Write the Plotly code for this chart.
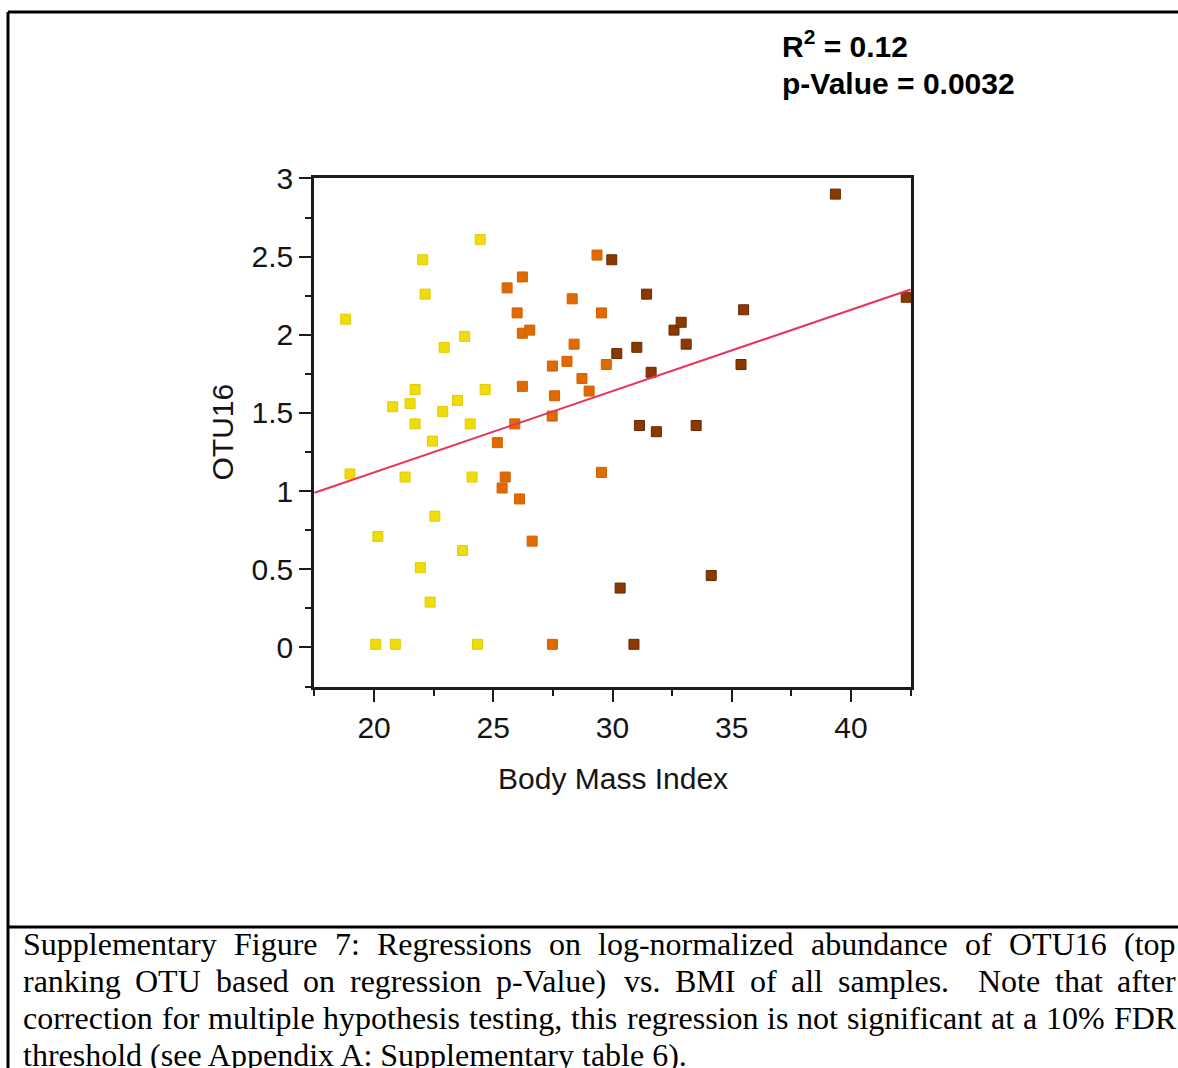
import plotly.graph_objects as go

FIG_W, FIG_H = 1178, 1068

# OTU16 log-normalized abundance vs. BMI, grouped by BMI band
bmi_low = [18.81, 18.99, 20.16, 20.07, 20.89, 20.78, 21.30, 21.51, 21.72, 21.72,
           22.04, 22.14, 21.94, 22.35, 22.45, 22.55, 22.88, 22.94, 23.50, 23.71,
           23.80, 24.03, 24.11, 24.34, 24.45, 24.66]
otu_low = [2.10, 1.11, 0.71, 0.02, 0.02, 1.54, 1.09, 1.56, 1.65, 1.43,
           2.48, 2.26, 0.51, 0.29, 1.32, 0.84, 1.51, 1.92, 1.58, 0.62,
           1.99, 1.43, 1.09, 0.02, 2.61, 1.65]

bmi_mid = [25.17, 25.37, 25.50, 25.58, 25.90, 26.00, 26.10, 26.22, 26.22, 26.53,
           26.22, 26.63, 27.47, 27.48, 27.57, 27.48, 28.09, 28.31, 28.39, 28.72,
           29.02, 29.35, 29.54, 29.54, 29.74]
otu_mid = [1.31, 1.02, 1.09, 2.30, 1.43, 2.14, 0.95, 2.37, 2.01, 2.03,
           1.67, 0.68, 1.48, 1.80, 1.61, 0.02, 1.83, 2.23, 1.94, 1.72,
           1.64, 2.51, 2.14, 1.12, 1.81]

bmi_high = [29.97, 30.18, 30.32, 30.90, 31.02, 31.13, 31.43, 31.62, 31.84, 32.58,
            32.88, 33.09, 33.51, 34.14, 35.39, 35.50, 39.35, 42.32]
otu_high = [2.48, 1.88, 0.38, 0.02, 1.92, 1.42, 2.26, 1.76, 1.38, 2.03,
            2.08, 1.94, 1.42, 0.46, 1.81, 2.16, 2.90, 2.24]

# Linear regression line
fit_x = [17.5, 42.5]
fit_intercept = 0.08
fit_slope = 0.052

x_ticks = [20, 25, 30, 35, 40]
y_ticks = [0, 0.5, 1, 1.5, 2, 2.5, 3]
y_tick_labels = ["0", "0.5", "1", "1.5", "2", "2.5", "3"]

stats_lines = ["R<sup>2</sup> = 0.12", "p-Value = 0.0032"]

caption_lines = [
    "Supplementary Figure 7: Regressions on log-normalized abundance of OTU16 (top",
    "ranking OTU based on regression p-Value) vs. BMI of all samples.  Note that after",
    "correction for multiple hypothesis testing, this regression is not significant at a 10% FDR",
    "threshold (see Appendix A: Supplementary table 6).",
]

# ---------------------------------------------------------------- layout helpers
PLOT_L, PLOT_R, PLOT_T, PLOT_B = 314, 911, 178, 687


def px(x):
    return x / FIG_W


def py(y):
    return 1 - y / FIG_H


AXIS_COLOR = "#1c1c1c"
SANS = "Liberation Sans, Arial, sans-serif"
SERIF = "Liberation Serif, Times New Roman, serif"
CHART_SIZE = 30

fig = go.Figure()

groups = [
    (bmi_low, otu_low, "#EEDC0C", "#E2CC00"),
    (bmi_mid, otu_mid, "#E06A00", "#D26000"),
    (bmi_high, otu_high, "#8A3A00", "#6A2800"),
]
for xs, ys, fill, edge in groups:
    fig.add_trace(go.Scatter(
        x=xs, y=ys, mode="markers",
        marker=dict(symbol="square", size=10, color=fill,
                    line=dict(color=edge, width=1)),
        hoverinfo="x+y", showlegend=False,
    ))

fit_y = [fit_intercept + fit_slope * v for v in fit_x]
fig.add_trace(go.Scatter(
    x=fit_x, y=fit_y, mode="lines",
    line=dict(color="#E8345C", width=2),
    hoverinfo="skip", showlegend=False,
))

tick_font = dict(family=SANS, size=CHART_SIZE, color="#151515")

fig.update_xaxes(
    domain=[px(PLOT_L), px(PLOT_R)],
    range=[17.48, 42.52],
    tickmode="array", tickvals=x_ticks, ticktext=[str(v) for v in x_ticks],
    ticks="outside", ticklen=12, tickwidth=2, tickcolor=AXIS_COLOR,
    minor=dict(tickmode="linear", tick0=0, dtick=2.5, ticks="outside",
               ticklen=6, tickwidth=2, tickcolor=AXIS_COLOR),
    showline=True, linecolor=AXIS_COLOR, linewidth=2.5, mirror=True,
    showgrid=False, zeroline=False, automargin=False,
    tickfont=tick_font, ticklabelstandoff=0,
)
fig.update_yaxes(
    domain=[py(PLOT_B), py(PLOT_T)],
    range=[-0.253, 3.003],
    tickmode="array", tickvals=y_ticks, ticktext=y_tick_labels,
    ticks="outside", ticklen=12, tickwidth=2, tickcolor=AXIS_COLOR,
    minor=dict(tickmode="linear", tick0=0, dtick=0.25, ticks="outside",
               ticklen=6, tickwidth=2, tickcolor=AXIS_COLOR),
    showline=True, linecolor=AXIS_COLOR, linewidth=2.5, mirror=True,
    showgrid=False, zeroline=False, automargin=False,
    tickfont=tick_font, ticklabelstandoff=0,
)

annotations = []

# axis titles
annotations.append(dict(
    text="Body Mass Index", x=px((PLOT_L + PLOT_R) / 2), y=py(778),
    xref="paper", yref="paper", xanchor="center", yanchor="middle",
    showarrow=False, font=dict(family=SANS, size=CHART_SIZE, color="#151515"),
))
annotations.append(dict(
    text="OTU16", x=px(222), y=py((PLOT_T + PLOT_B) / 2),
    xref="paper", yref="paper", xanchor="center", yanchor="middle",
    textangle=-90, showarrow=False,
    font=dict(family=SANS, size=CHART_SIZE, color="#151515"),
))

# regression statistics
for i, line in enumerate(stats_lines):
    annotations.append(dict(
        text="<b>" + line + "</b>", x=px(780), y=py(44 + 40 * i),
        xref="paper", yref="paper", xanchor="left", yanchor="middle",
        showarrow=False, font=dict(family=SANS, size=CHART_SIZE, color="#000000"),
    ))

# ---------------------------------------------------------------- caption (justified)
TIMES_W = {
    " ": 250, "(": 333, ")": 333, ",": 250, "-": 333, ".": 250, ":": 278, "%": 833,
    "A": 722, "B": 667, "C": 667, "D": 722, "E": 611, "F": 556, "G": 722, "H": 722,
    "I": 333, "J": 389, "K": 722, "L": 611, "M": 889, "N": 722, "O": 722, "P": 556,
    "Q": 722, "R": 667, "S": 556, "T": 611, "U": 722, "V": 722, "W": 944, "X": 722,
    "Y": 722, "Z": 611,
    "a": 444, "b": 500, "c": 444, "d": 500, "e": 444, "f": 333, "g": 500, "h": 500,
    "i": 278, "j": 278, "k": 500, "l": 278, "m": 778, "n": 500, "o": 500, "p": 500,
    "q": 500, "r": 333, "s": 389, "t": 278, "u": 500, "v": 500, "w": 722, "x": 500,
    "y": 500, "z": 444,
}
CAP_SIZE = 32
CAP_L, CAP_R = 22, 1175
CAP_Y0, CAP_DY = 944, 37.0


def text_width(s, size):
    return sum(TIMES_W.get(c, 500) for c in s) * size / 1000.0


for li, line in enumerate(caption_lines):
    yc = py(CAP_Y0 + CAP_DY * li)
    cap_font = dict(family=SERIF, size=CAP_SIZE, color="#000000")
    if li == len(caption_lines) - 1:
        annotations.append(dict(
            text=line, x=px(CAP_L), y=yc, xref="paper", yref="paper",
            xanchor="left", yanchor="middle", showarrow=False, font=cap_font,
            borderpad=0,
        ))
        continue
    tokens = line.split(" ")
    words_w = sum(text_width(t, CAP_SIZE) for t in tokens)
    n_spaces = len(tokens) - 1
    gap = (CAP_R - CAP_L - words_w) / n_spaces
    cursor = CAP_L
    for t in tokens:
        if t:
            annotations.append(dict(
                text=t, x=px(cursor), y=yc, xref="paper", yref="paper",
                xanchor="left", yanchor="middle", showarrow=False, font=cap_font,
                borderpad=0,
            ))
        cursor += text_width(t, CAP_SIZE) + gap

# page frame: top rule, left rule, caption separator
frame = dict(color="#000000", width=3)
shapes = [
    dict(type="line", xref="paper", yref="paper", x0=px(8), x1=1, y0=py(12), y1=py(12), line=frame),
    dict(type="line", xref="paper", yref="paper", x0=px(8), x1=px(8), y0=py(12), y1=0, line=frame),
    dict(type="line", xref="paper", yref="paper", x0=px(8), x1=1, y0=py(927), y1=py(927), line=frame),
]

fig.update_layout(
    width=FIG_W, height=FIG_H,
    margin=dict(l=0, r=0, t=0, b=0, pad=0, autoexpand=False),
    paper_bgcolor="white", plot_bgcolor="white",
    showlegend=False,
    annotations=annotations,
    shapes=shapes,
)

fig.write_html("out.html")
